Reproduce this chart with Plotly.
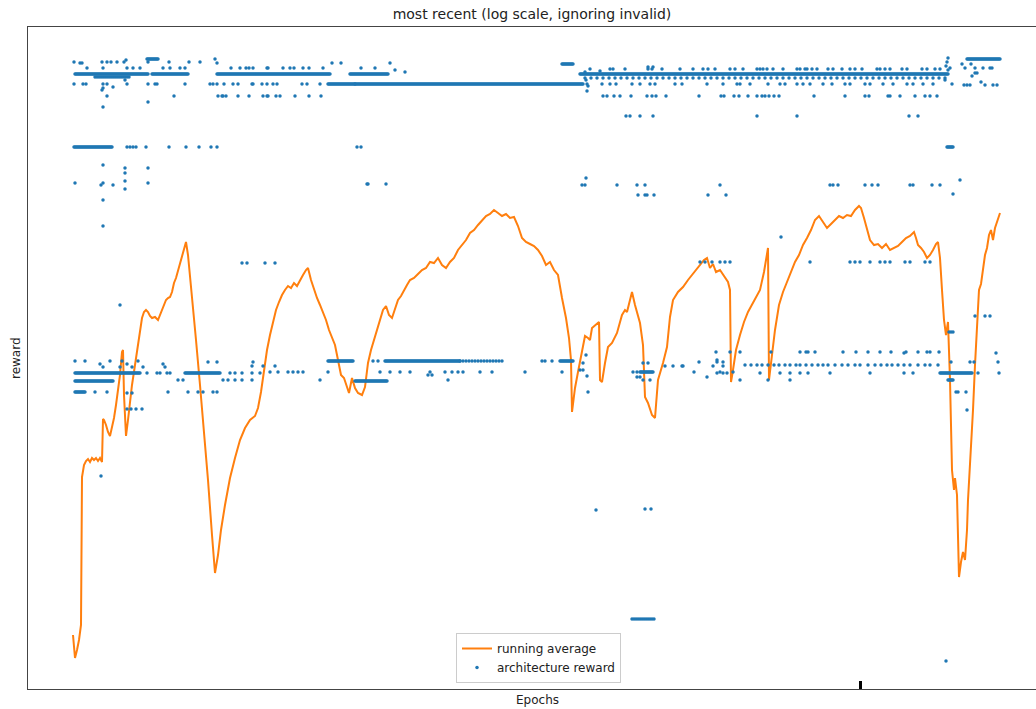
import numpy as np
import plotly.graph_objects as go

# ---------------- data (epoch, reward level) ----------------
# running average curve: (epoch, depth) pairs; depth is converted to a reward level below
avg_points = [
    (73,635),(75,658),(77,650),(79,640),(81,625),(82,477),(84,465),(86,461),(88,459),(90,462),(92,458),(94,460),
    (96,458),(98,461),(100,458),(102,462),(103,419),(104,420),(106,425),(108,432),(110,436),(112,427),(114,418),
    (116,405),(118,390),(120,375),(122,352),(123,350),(124,395),(126,436),(128,420),(130,400),(132,385),(135,365),
    (138,345),(140,330),(142,318),(144,312),(146,310),(148,312),(150,316),(152,318),(155,317),(158,320),(160,315),
    (162,310),(164,305),(166,300),(168,298),(170,297),(172,292),(174,283),(176,278),(178,271),(180,265),(182,258),
    (184,250),(186,242),(188,255),(190,275),(193,305),(196,340),(200,385),(204,430),(208,480),(212,535),(215,573),
    (218,555),(221,530),(225,505),(230,478),(235,458),(240,440),(245,428),(250,420),(255,416),(258,408),(261,392),
    (264,370),(267,350),(270,335),(273,322),(276,310),(279,302),(282,295),(285,290),(288,286),(291,288),(294,283),
    (297,286),(300,280),(303,275),(306,270),(308,268),(311,280),(314,290),(317,298),(320,305),(323,312),(326,320),
    (329,330),(332,338),(335,345),(338,360),(341,375),(344,378),(347,388),(349,393),(352,378),(355,388),(358,393),
    (362,395),(365,387),(368,363),(371,350),(374,340),(377,330),(380,318),(383,310),(386,306),(389,315),(392,318),
    (395,310),(398,300),(401,296),(404,290),(407,285),(410,280),(414,278),(418,274),(422,270),(426,268),(430,262),
    (434,263),(438,258),(442,265),(446,268),(450,262),(454,258),(458,250),(462,245),(466,240),(470,233),(474,230),
    (478,225),(482,220),(486,216),(490,214),(494,210),(498,213),(502,216),(506,214),(510,218),(514,217),(518,226),
    (522,238),(526,242),(530,244),(534,246),(538,250),(542,256),(546,265),(550,262),(554,270),(558,275),(562,298),
    (566,318),(569,338),(571,360),(572,412),(575,388),(578,372),(582,352),(585,336),(588,338),(590,340),(592,328),
    (595,325),(599,322),(600,380),(602,382),(605,363),(608,347),(612,343),(617,333),(622,315),(625,310),(627,312),
    (632,292),(635,305),(640,323),(643,345),(645,397),(648,403),(652,415),(655,418),(658,380),(663,363),(667,347),
    (670,317),(673,300),(678,292),(683,287),(688,280),(692,275),(696,270),(700,266),(704,260),(707,258),(710,268),
    (713,264),(716,272),(720,270),(724,276),(728,282),(730,290),(731,382),(733,370),(736,350),(740,335),(744,322),
    (748,312),(752,305),(756,298),(760,290),(764,272),(767,252),(768,248),(769,380),(772,355),(775,330),(779,305),
    (783,292),(787,282),(791,272),(795,262),(799,255),(803,245),(807,238),(811,230),(815,220),(819,216),(823,222),
    (827,228),(831,224),(835,220),(839,216),(843,218),(847,215),(851,216),(855,210),(859,206),(861,208),(864,218),
    (867,230),(870,240),(874,245),(878,244),(882,248),(886,244),(890,250),(894,248),(898,246),(902,242),(906,238),
    (910,236),(914,232),(916,238),(918,245),(921,248),(924,252),(927,258),(930,255),(933,250),(936,244),(938,242),
    (940,258),(942,290),(944,320),(946,335),(948,322),(950,380),(952,470),(954,490),(955,478),(957,495),(958,545),
    (959,577),(961,562),(963,552),(965,560),(967,530),(968,500),(971,450),(973,410),(975,365),(977,320),(979,290),
    (981,284),(983,268),(985,255),(987,248),(989,235),(991,230),(993,240),(995,228),(997,222),(999,215),(1000,213),
]
avg_epochs = [p[0] for p in avg_points]
avg_depth = [p[1] for p in avg_points]

# dense runs of architecture rewards: start epoch, end epoch, depth, sampling step
band_start = [75, 152, 147, 217, 350, 580, 328, 355, 562, 967, 74, 947, 75, 75, 75, 185, 328, 355, 385, 460, 560, 640, 940, 948, 632, 949, 95, 585]
band_end   = [148, 188, 158, 330, 388, 948, 355, 583, 573, 1000, 112, 953, 140, 113, 85, 220, 353, 387, 460, 503, 573, 653, 972, 953, 655, 954, 130, 945]
band_depth = [74, 74, 59, 74, 74, 74, 84, 84, 64, 59, 147, 147, 373, 381, 392, 373, 361, 381, 361, 361, 361, 372, 373, 380, 619, 332, 77, 78]
band_step  = [1, 1, 1, 1, 1, 1, 1, 1, 1, 1, 1, 1, 1, 1, 1, 1, 1, 1, 1, 3, 1, 1, 1, 1, 2, 2, 2, 6]

# isolated architecture rewards (epoch, depth)
single_points = [
    (74,62),(80,63),(82,63),(102,62),(107,62),(111,62),(117,62),(124,62),(126,60),(148,62),(169,62),(189,62),(200,62),(215,59),(217,63),
    (87,68),(103,68),(127,68),(133,68),(140,68),(163,68),(170,68),(180,68),(185,68),
    (231,68),(240,68),(246,68),(249,68),(253,68),(267,68),(268,68),(283,68),(290,68),(294,68),(303,68),(309,68),(323,68),(332,63),(341,63),(361,68),(375,68),(390,63),(395,70),(405,72),
    (74,84),(83,84),(86,84),(103,84),(107,84),(127,84),(148,84),(155,84),(157,84),(185,84),(210,84),(213,84),(217,84),(224,84),(233,84),(238,84),(252,84),(253,84),(262,84),(267,84),(273,84),(277,84),(302,84),(307,84),(320,84),
    (107,96),(174,96),(218,96),(222,96),(223,96),(226,96),(238,96),(249,96),(263,96),(267,96),(268,96),(276,96),(280,96),(295,96),(309,96),(321,96),
    (103,88),(102,90),(148,102),(125,80),(113,87),(103,107),(103,165),(125,168),(125,173),(148,168),(75,183),(101,185),(103,183),(113,185),(125,181),(125,189),(148,183),(103,200),(103,226),
    (127,147),(130,147),(133,147),(136,147),(146,147),(169,147),(186,147),(199,147),(211,147),(217,147),(357,147),(361,147),(367,184),(368,184),(386,184),
    (610,69),(613,69),(625,69),(648,69),(652,69),(662,69),(680,69),(693,69),(703,69),(708,69),(715,69),(730,69),(735,69),(743,69),(757,69),(760,69),(763,69),(767,69),(773,69),(783,69),(797,69),(800,69),(805,69),(807,69),(812,69),(817,69),(828,69),(833,69),(842,69),(850,69),(855,69),(862,69),(877,69),(880,69),(885,69),(890,69),(902,69),(907,69),(922,69),(927,69),(935,69),(940,69),
    (648,67),(653,67),(590,69),(600,71),(585,72),
    (587,84),(602,84),(610,84),(616,84),(632,84),(640,84),(650,84),(655,84),(675,84),(682,84),(707,84),(723,84),(737,84),(740,84),(750,84),(768,84),(780,84),(785,84),(797,84),(803,84),(810,84),(823,84),(832,84),(845,84),(850,84),(865,84),(870,84),(883,84),(893,84),(907,84),(913,84),(923,84),(933,84),(952,84),
    (603,96),(607,96),(614,96),(620,96),(631,96),(647,96),(652,96),(656,96),(666,96),(699,96),(721,96),(724,96),(734,96),(739,96),(748,96),(757,96),(762,96),(765,96),(769,96),(774,96),(779,96),(814,96),(845,96),(865,96),(869,96),(888,96),(890,96),(900,96),(915,96),(925,96),(930,96),(937,96),
    (587,91),(588,86),(586,80),
    (626,116),(630,116),(640,116),(653,116),(757,116),(797,116),(909,116),(918,116),
    (948,58),(947,62),(946,66),(948,70),(945,80),(950,68),
    (962,64),(971,64),(965,68),(975,68),(983,68),(990,68),(992,68),(975,73),(977,73),(964,85),(967,85),(970,85),(985,85),(993,85),(997,85),(972,76),(981,82),
    (582,185),(585,185),(586,178),(617,185),(637,185),(645,185),(720,185),(830,185),(833,185),(838,185),(865,185),(872,185),(878,185),(910,185),(913,185),(932,185),(940,185),
    (638,195),(645,195),(647,195),(654,195),(708,195),(726,195),(960,180),(953,194),
    (75,361),(85,361),(110,361),(122,361),(138,361),(100,364),(127,364),(163,364),(103,367),(120,367),(132,367),(143,367),(165,367),(208,362),(217,362),(253,362),
    (147,373),(157,373),(160,373),(167,373),(170,373),(230,373),(235,373),(242,373),(252,373),(260,373),(270,372),(278,372),(288,372),(293,372),(298,372),(303,372),(328,372),
    (178,380),(183,380),(223,380),(228,380),(235,380),(242,380),(252,380),(320,380),
    (95,392),(107,392),(168,392),(188,392),(198,392),(203,392),(213,392),(217,392),(127,393),(132,393),
    (252,366),(263,366),(275,366),
    (127,409),(131,409),(136,409),(142,409),(120,305),(101,476),
    (242,263),(247,263),(265,263),(275,263),
    (380,372),(390,372),(400,372),(410,372),(430,372),(445,372),(452,372),(458,372),(463,372),(480,372),(492,372),(525,372),(562,372),(448,380),(428,375),(432,375),(373,361),(378,361),(542,361),(545,361),(552,361),
    (583,363),(586,355),(580,370),(583,370),(587,376),(588,392),(633,372),(637,372),(637,377),(640,377),(643,380),(650,380),(643,363),(648,363),
    (665,366),(673,366),(682,366),(683,366),(699,362),(717,362),(723,362),(694,372),(720,372),(733,372),(707,377),(713,366),(723,366),(717,373),(723,373),(727,373),(717,360),
    (716,352),(730,352),(740,352),(771,352),(800,352),(806,352),(808,352),(815,352),(843,352),(856,352),(868,352),(880,352),(891,352),(906,352),(918,352),(927,352),(930,352),(939,352),
    (745,365),(751,365),(757,365),(762,365),(768,365),(774,365),(779,365),(785,365),(790,365),(796,365),(800,365),(806,365),(812,365),(818,365),(823,365),(828,365),(835,365),(842,365),(848,365),(855,365),(860,365),(868,365),(875,365),(881,365),(887,365),(892,365),(898,365),(904,365),(910,365),(918,365),(925,365),(930,365),(938,365),
    (760,373),(780,373),(790,373),(800,373),(808,373),(830,373),(870,373),(904,373),(913,373),(978,373),(999,373),
    (740,380),(768,380),(790,380),
    (904,353),(996,353),(951,362),(970,362),(974,362),(998,362),(956,392),(958,392),(966,392),(967,410),(975,316),(985,316),(990,316),
    (700,262),(705,262),(712,262),(720,262),(725,262),(730,262),(810,262),(850,262),(855,262),(860,262),(870,262),(880,262),(885,262),(890,262),(905,262),(910,262),(925,262),(930,262),(781,237),
    (596,510),(645,509),(651,509),(946,661),
]

TOP_LEVEL = 700  # reward level = TOP_LEVEL - depth

# ---------------- build traces ----------------
avg_reward = [TOP_LEVEL - d for d in avg_depth]

sc_x, sc_y = [], []
for s, e, d, st in zip(band_start, band_end, band_depth, band_step):
    for ep in range(s, e + 1, st):
        sc_x.append(ep)
        sc_y.append(TOP_LEVEL - d)
for ep, d in single_points:
    sc_x.append(ep)
    sc_y.append(TOP_LEVEL - d)

fig = go.Figure()
fig.add_trace(go.Scatter(
    x=avg_epochs, y=avg_reward, mode="lines", name="running average",
    line=dict(color="#ff7f0e", width=2),
))
fig.add_trace(go.Scatter(
    x=sc_x, y=sc_y, mode="markers", name="architecture reward",
    marker=dict(color="#1f77b4", size=3.5, line=dict(width=0)),
))

font_family = "DejaVu Sans"
fig.update_layout(
    width=1036, height=709,
    margin=dict(l=28, r=0, t=27, b=20),
    paper_bgcolor="white", plot_bgcolor="white",
    font=dict(family=font_family, size=12, color="#222"),
    title=dict(text="most recent (log scale, ignoring invalid)", x=0.5, xref="paper",
               y=1 - 14 / 709, yref="container", yanchor="middle", xanchor="center",
               font=dict(family=font_family, size=14, color="#222")),
    showlegend=True,
    legend=dict(x=(456 - 28) / 1008, y=(689 - 683) / 662, xanchor="left", yanchor="bottom",
                bgcolor="white", bordercolor="#cccccc", borderwidth=1,
                font=dict(family=font_family, size=12, color="#222"),
                itemwidth=30, tracegroupgap=0),
    xaxis=dict(range=[28, 1036], showticklabels=False, ticks="", showgrid=False, zeroline=False,
               showline=True, linecolor="#444", linewidth=1, mirror=True),
    yaxis=dict(range=[TOP_LEVEL - 689, TOP_LEVEL - 27], showticklabels=False, ticks="", showgrid=False,
               zeroline=False, showline=True, linecolor="#444", linewidth=1, mirror=False),
    annotations=[
        dict(text="Epochs", x=(537 - 28) / 1008, xref="paper", y=-11 / 662, yref="paper",
             xanchor="center", yanchor="middle", showarrow=False,
             font=dict(family=font_family, size=12, color="#222")),
        dict(text="reward", x=-12 / 1008, xref="paper", y=0.5, yref="paper", textangle=-90,
             xanchor="center", yanchor="middle", showarrow=False,
             font=dict(family=font_family, size=12, color="#222")),
    ],
    shapes=[dict(type="rect", xref="x", yref="paper", x0=859, x1=862, y0=0, y1=8 / 662,
                 fillcolor="black", line=dict(width=0))],
)

fig.write_html("out.html", config={"displayModeBar": False},
               post_script="document.body.style.margin='0';document.body.style.overflow='hidden';")
